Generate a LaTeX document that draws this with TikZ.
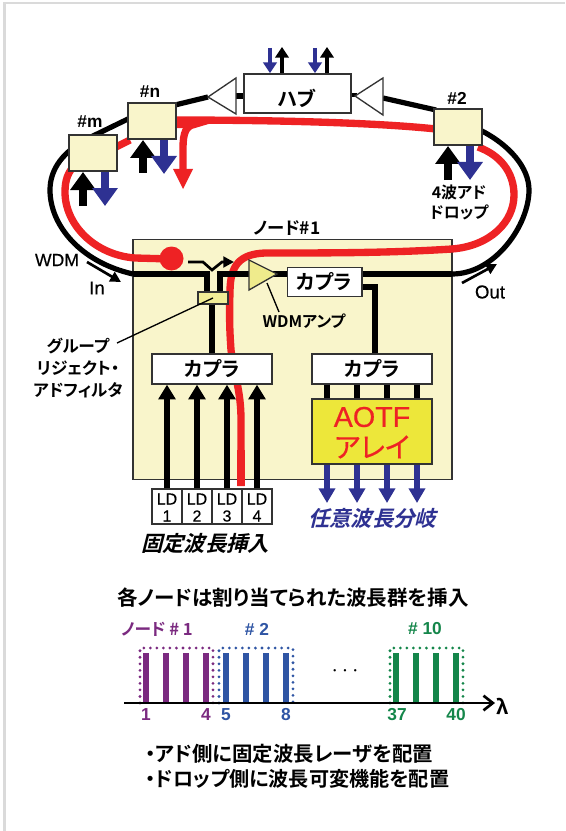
\documentclass[tikz,border=0pt]{standalone}
\usepackage{fontspec}
\usetikzlibrary{arrows.meta}
\setmainfont{Liberation Sans}
\newfontfamily\medsans{Liberation Sans}[FakeBold=0.5]
\newfontfamily\jp{Noto Sans CJK JP}[BoldFont={Noto Sans CJK JP Bold},RawFeature=+palt]
\newfontfamily\jpmed{Noto Sans CJK JP}[FakeBold=0.5,RawFeature=+palt]
\newfontfamily\jpsl{Noto Sans CJK JP Bold}[FakeSlant=0.25]
\definecolor{nodefill}{HTML}{F9F5CB}
\definecolor{ampfill}{HTML}{EFEB8C}
\definecolor{aotf}{HTML}{EDE73A}
\definecolor{ared}{HTML}{EE2224}
\definecolor{ablue}{HTML}{2E3192}
\definecolor{lpurple}{HTML}{7B2A80}
\definecolor{lblue}{HTML}{2F55A4}
\definecolor{lgreen}{HTML}{14864A}
\definecolor{frame}{HTML}{DADADA}
\newcommand{\pxfont}[1]{\fontsize{#1}{#1}\selectfont}
\tikzset{
  x=0.75pt,y=-0.75pt,
  box/.style={draw=black!80,line width=1.5pt,inner sep=0},
  ring/.style={line width=3.9pt,black},
  redpath/.style={line width=5.5pt,ared},
  fatup/.style={-{Triangle[width=18.5pt,length=13.5pt]},line width=5.5pt},
  ldup/.style={-{Triangle[width=12.5pt,length=11pt]},line width=4pt},
  dropdn/.style={-{Triangle[width=12pt,length=11pt]},line width=4.6pt,ablue},
  lab/.style={inner sep=0,font=\jp\bfseries\pxfont{12.5pt},align=center},
  captext/.style={inner sep=0,font=\jp\bfseries\pxfont{15pt},align=center},
  lat/.style={inner sep=0,font=\bfseries\pxfont{13pt},align=center},
  rom/.style={inner sep=0,font=\medsans\pxfont{14pt},align=center},
  ldtext/.style={inner sep=0,font=\medsans\pxfont{12pt},align=center},
  bar/.style={line width=4.5pt},
  dots/.style={line width=2.3pt,line cap=round,dash pattern=on 0pt off 4.9pt},
  tinyarrow/.style={-{Triangle[width=10pt,length=8pt]},line width=3.2pt},
  thinarrow/.style={line width=2pt,-{Triangle[width=8pt,length=8pt]}},
  blackline/.style={line width=4pt},
}
\begin{document}
\begin{tikzpicture}
\useasboundingbox (0,0) rectangle (565,831);
\fill[white] (0,0) rectangle (565,831);
\draw[frame,line width=1.6pt] (4.5,831) -- (4.5,3) -- (565,3);
% node 1 panel
\node[draw=black!80,line width=1pt,fill=nodefill,minimum width=239.25pt,minimum height=180pt,inner sep=0] (panel) at (292.5,359.5) {};
% ring
\coordinate (ringin) at (133,274);
\coordinate (ringout) at (452,274);
\coordinate (triL) at (208,97);
\coordinate (triR) at (383,98);
\draw[ring] (ringin) .. controls (80,262) and (50,225) .. (50,190) .. controls (50,170) and (62,150) .. (95,135) -- (130,118);
\draw[ring] (175,105) -- (triL);
\draw[ring] (triR) -- (436,110);
\draw[ring] (480,130) .. controls (510,145) and (529,168) .. (529,190) .. controls (529,225) and (495,274) .. (ringout);
% hub
\node[box,fill=white,minimum width=80pt,minimum height=29pt] (hub) at (297.5,93.5) {};
\node[captext] (hubt) at (297,98) {ハブ};
\draw[blackline] (236,96) -- (hub.west |- 0,96);
\draw[line width=3.5pt] (hub.east |- 0,95) -- (357,95);
\fill[white,draw=black!80,line width=1pt] (triL) -- (236,78) -- (236,114) -- cycle;
\fill[white,draw=black!80,line width=1pt] (355,96) -- (383,78) -- (383,115) -- cycle;
% red
\draw[redpath] (171,259) -- (135,258) .. controls (95,255) and (65,225) .. (65,192) .. controls (65,180) and (68,172) .. (75,165);
\draw[redpath] (110,150) -- (130,140);
\draw[redpath] (170,120) .. controls (260,120) and (370,122) .. (436,129);
\draw[redpath] (478,147) .. controls (500,155) and (514,172) .. (514,195) .. controls (514,222) and (490,246) .. (452,249)
  .. controls (390,253) and (330,253) .. (265,253)
  .. controls (240,254) and (230,265) .. (230,292) .. controls (229,320) and (230,335) .. (231,350) .. controls (234,375) and (241,390) .. (241,420) -- (241,486);
\draw[redpath] (170,124.5) -- (194,124.5) .. controls (186,126) and (183,133) .. (183,148) -- (183,170);
\fill[ared] (173,169) -- (193,169) -- (183,189) -- cycle;
\fill[ared] (171.5,258.5) circle (12);
% side nodes
\node[box,fill=nodefill,minimum width=36pt,minimum height=27pt] (nm) at (92.5,153) {};
\node[box,fill=nodefill,minimum width=36pt,minimum height=27pt] (nn) at (152,121) {};
\node[box,fill=nodefill,minimum width=36pt,minimum height=27pt] (ntwo) at (458,127) {};
\node[lat] (tm) at (90,122) {\#m};
\node[lat] (tn) at (150,92) {\#n};
\node[lat] (t2) at (457,98) {\#2};
\node[lab,font=\jp\bfseries\pxfont{12pt}] (t4a) at (459,192) {4波アド};
\node[lab,font=\jp\bfseries\pxfont{12pt}] (t4b) at (459,212) {ドロップ};
\node[lab,font=\jp\bfseries\pxfont{13pt}] (tn1) at (287,228) {ノード\#1};
% fat arrows
\draw[fatup] (83,206) -- (83,0 |- nm.south);
\draw[fatup,ablue] (105,0 |- nm.south) -- (105,206);
\draw[fatup] (143,173) -- (143,0 |- nn.south);
\draw[fatup,ablue] (164,0 |- nn.south) -- (164,174);
\draw[fatup] (448,180) -- (448,0 |- ntwo.south);
\draw[fatup,ablue] (470,0 |- ntwo.south) -- (470,180);
\draw[tinyarrow,ablue] (270,48) -- (270,0 |- hub.north);
\draw[tinyarrow] (282,0 |- hub.north) -- (282,47);
\draw[tinyarrow,ablue] (315,48) -- (315,0 |- hub.north);
\draw[tinyarrow] (327,0 |- hub.north) -- (327,47);
% inside node 1
\node[box,line width=1pt,fill=ampfill!90!white,minimum width=22.5pt,minimum height=9pt] (filt) at (213,298) {};
\node[box,line width=1pt,fill=white,minimum width=56pt,minimum height=22pt] (cptop) at (324.5,282) {};
\node[box,line width=1pt,fill=white,minimum width=90pt,minimum height=22.5pt] (cpl) at (212,369) {};
\node[box,line width=1pt,fill=white,minimum width=90pt,minimum height=22.5pt] (cpr) at (372,369) {};
\node[box,line width=1pt,fill=aotf,minimum width=90pt,minimum height=48.75pt] (aotfbox) at (372,431.5) {};
\draw[blackline] (ringin) -- (207,274) -- (207,0 |- filt.north);
\draw[blackline] (220,0 |- filt.north) -- (220,274) -- (cptop.west |- 0,274);
\draw[blackline] (cptop.east |- 0,274) -- (ringout);
\draw[blackline] (212,0 |- filt.south) -- (212,0 |- cpl.north);
\draw[blackline] (cptop.east |- 0,287) -- (375,287) -- (375,0 |- cpr.north);
\fill[ampfill,draw=black!80,line width=1pt] (249,260) -- (277,274) -- (249,290) -- cycle;
\node[captext] (c1) at (324,282) {カプラ};
\node[captext] (c2) at (212,369) {カプラ};
\node[captext] (c3) at (372,369) {カプラ};
\node[inner sep=0,text=ared,font=\medsans\pxfont{21.5pt}] (aotft) at (372,417) {AOTF};
\node[inner sep=0,text=ared,font=\jpmed\pxfont{21pt}] (aotfk) at (372,447) {アレイ};
\foreach \x in {327,357,387,417} \draw[blackline] (\x,0 |- cpr.south) -- (\x,0 |- aotfbox.north);
\foreach \x in {327,357,387,417} \draw[dropdn] (\x,0 |- aotfbox.south) -- (\x,503);
% LD
\foreach \x/\n in {167/1,197/2,227/3,257/4}{
  \node[draw=black!80,line width=0.9pt,fill=white,minimum width=22.5pt,minimum height=26.25pt,inner sep=0] (ld\n) at (\x,506.5) {};
  \node[ldtext] (ldA\n) at (\x,499) {LD};
  \node[ldtext] (ldB\n) at (\x,516) {\n};
}
\foreach \n in {1,2,3,4} \draw[ldup] (ld\n.north) -- (ld\n.north |- cpl.south);
\draw[redpath,line cap=butt] (241,450) -- (241,486);
% leaders
\coordinate (ldrA) at (117,343);
\coordinate (ldrB) at (279,312);
\draw[line width=1pt] (ldrA) -- (filt.center);
\draw[line width=1pt] (267,283) -- (ldrB);
\node[lab,font=\jp\bfseries\pxfont{12pt}] (wa) at (304,321) {WDMアンプ};
\node[lab] (g1) at (78,346) {グループ};
\node[lab] (g2) at (78,368) {リジェクト・};
\node[lab] (g3) at (78,390) {アドフィルタ};
% signal arrows
\draw[thinarrow] (188,262) -- (203,262) -- (212,270) -- (222,262) -- (234,262);
\node[inner sep=0,font=\medsans\pxfont{13.2pt}] (twdm) at (57,260) {WDM};
\node[rom] (tin) at (97,288) {In};
\node[rom] (tout) at (490,292) {Out};
\draw[thinarrow] (87,262) -- (121,282);
\draw[thinarrow] (462,283) -- (497,264);
\node[inner sep=0,font=\jpsl\pxfont{16pt},text=ablue] (tdrop) at (372,518) {任意波長分岐};
\node[inner sep=0,font=\jpsl\pxfont{16pt}] (tadd) at (205,543) {固定波長挿入};
% lower chart
\node[inner sep=0,font=\jp\bfseries\pxfont{15.4pt}] (title) at (293,598) {各ノードは割り当てられた波長群を挿入};
\node[inner sep=0,font=\jp\bfseries\pxfont{12.5pt},text=lpurple] (l1) at (157,629) {ノード \# 1};
\node[lat,text=lblue] (l2) at (257,629) {\# 2};
\node[lat,text=lgreen] (l3) at (425,629) {\# 10};
\coordinate (axL) at (124,703);
\coordinate (axR) at (495,703);
\foreach \x in {146,166,186,206} \draw[bar,lpurple] (\x,653) -- (\x,0 |- axL);
\foreach \x in {226,246,266,286} \draw[bar,lblue] (\x,653) -- (\x,0 |- axL);
\foreach \x in {396,416,436,456} \draw[bar,lgreen] (\x,653) -- (\x,0 |- axL);
\draw[dots,lpurple] (140,703) -- (140,648) -- (213,648) -- (213,703);
\draw[dots,lblue] (219,703) -- (219,648) -- (293,648) -- (293,703);
\draw[dots,lgreen] (390,703) -- (390,648) -- (463,648) -- (463,703);
\draw[line width=2pt,-{Straight Barb[length=7pt,width=11pt,line width=2pt]}] (axL) -- (axR);
\node[inner sep=0,font=\jp\bfseries\pxfont{15pt}] (lam) at (503,706) {λ};
\node[inner sep=0,font=\pxfont{16pt}] (dd) at (345,671) {$\cdots$};
\foreach \x/\t in {146/1,206/4} \node[lat,text=lpurple] (n\t) at (\x,715) {\t};
\foreach \x/\t in {226/5,286/8} \node[lat,text=lblue] (n\t) at (\x,715) {\t};
\foreach \x/\t in {397/37,456/40} \node[lat,text=lgreen] (n\t) at (\x,715) {\t};
\node[inner sep=0,anchor=west,font=\jp\bfseries\pxfont{15.3pt}] (b1) at (145,754) {・アド側に固定波長レーザを配置};
\node[inner sep=0,anchor=west,font=\jp\bfseries\pxfont{15.1pt}] (b2) at (145,779) {・ドロップ側に波長可変機能を配置};
\end{tikzpicture}
\end{document}
